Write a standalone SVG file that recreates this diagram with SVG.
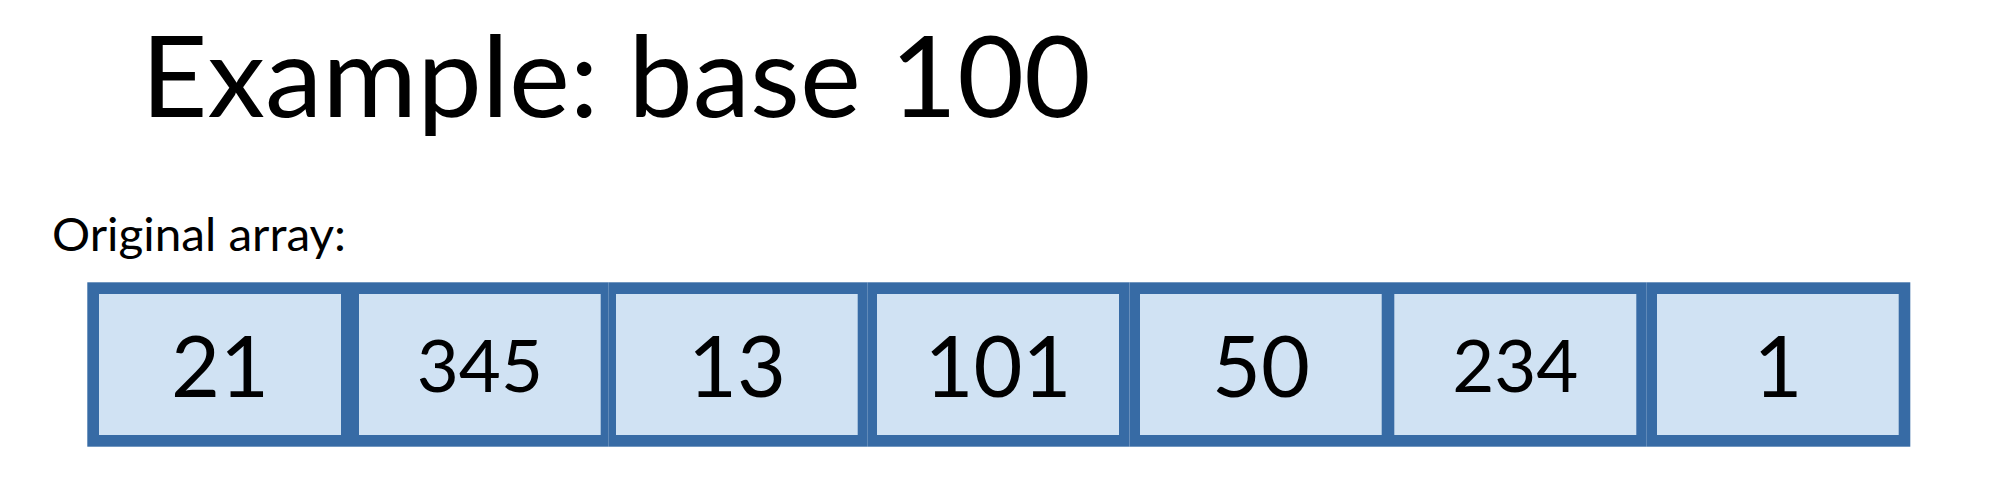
<svg xmlns="http://www.w3.org/2000/svg" width="2004" height="490" viewBox="0 0 2004 490">
<style>
.frame{fill:#376BA5}
.cell{fill:#D0E2F3}
.txt{font-family:Lato,"Liberation Sans",sans-serif;fill:#000}
.big{font-size:84.5px;text-anchor:middle}
.small{font-size:72.6px;text-anchor:middle}
</style>
<rect width="2004" height="490" fill="#ffffff"/>
<text id="title" class="txt" x="141" y="117" font-size="111.6" textLength="950" lengthAdjust="spacingAndGlyphs">Example: base 100</text>
<text id="label" class="txt" x="52" y="251" font-size="46" textLength="294" lengthAdjust="spacingAndGlyphs">Original array:</text>
<g id="connectors"></g>
<g id="cell-1">
<rect class="frame" x="87.3" y="282.3" width="262.7" height="164.4"/>
<rect class="cell" x="99" y="294" width="242" height="141"/>
<text class="txt big" x="220" y="396.5">21</text>
</g>
<g id="cell-2">
<rect class="frame" x="350" y="282.3" width="258.3" height="164.4"/>
<rect class="cell" x="359" y="294" width="241.7" height="141"/>
<text class="txt small" x="479.9" y="392">345</text>
</g>
<g id="cell-3">
<rect class="frame" x="608.3" y="282.3" width="259" height="164.4"/>
<rect class="cell" x="616" y="294" width="241.7" height="141"/>
<text class="txt big" x="736.9" y="396.5">13</text>
</g>
<g id="cell-4">
<rect class="frame" x="867.3" y="282.3" width="262.2" height="164.4"/>
<rect class="cell" x="877" y="294" width="242" height="141"/>
<text class="txt big" x="998" y="396.5">101</text>
</g>
<g id="cell-5">
<rect class="frame" x="1129.5" y="282.3" width="258.5" height="164.4"/>
<rect class="cell" x="1140" y="294" width="241.7" height="141"/>
<text class="txt big" x="1260.9" y="396.5">50</text>
</g>
<g id="cell-6">
<rect class="frame" x="1388" y="282.3" width="258.7" height="164.4"/>
<rect class="cell" x="1394.3" y="294" width="242" height="141"/>
<text class="txt small" x="1515.3" y="392">234</text>
</g>
<g id="cell-7">
<rect class="frame" x="1646.7" y="282.3" width="263.6" height="164.4"/>
<rect class="cell" x="1657" y="294" width="241.7" height="141"/>
<text class="txt big" x="1777.9" y="396.5">1</text>
</g>
</svg>
